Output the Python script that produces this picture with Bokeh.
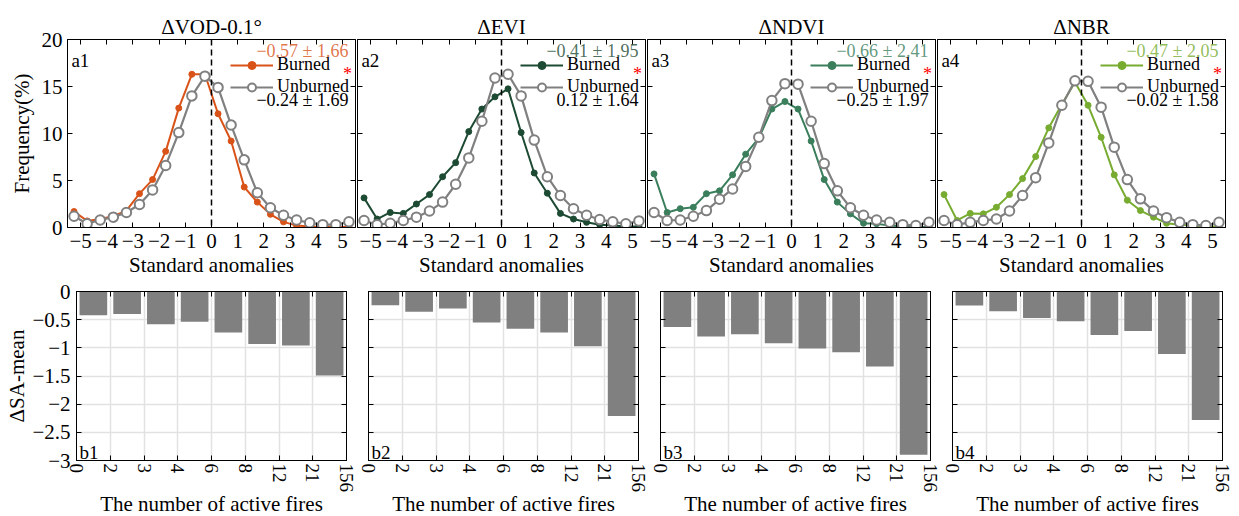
import math
from bokeh.plotting import figure
from bokeh.models import (Range1d, LinearAxis, FixedTicker, Span, Label, Legend,
                          LegendItem, CustomLabelingPolicy)
from bokeh.layouts import column, row
from bokeh.embed import file_html
from bokeh.resources import INLINE

FONT = "Liberation Serif"

# ---------------- data ----------------
titles = ["ΔVOD-0.1°", "ΔEVI", "ΔNDVI", "ΔNBR"]
panel_a = ["a1", "a2", "a3", "a4"]
panel_b = ["b1", "b2", "b3", "b4"]

sa_bins = [-5.25, -4.75, -4.25, -3.75, -3.25, -2.75, -2.25, -1.75, -1.25, -0.75, -0.25,
           0.25, 0.75, 1.25, 1.75, 2.25, 2.75, 3.25, 3.75, 4.25, 4.75, 5.25]

vod_burned = [1.7, 0.7, 0.9, 1.2, 1.8, 3.6, 5.1, 8.1, 12.7, 16.3, 16.3,
              12.1, 9.2, 4.3, 2.7, 1.4, 0.6, 0.2, 0.1, 0.05, 0.05, 0.05]
vod_unburned = [1.2, 0.4, 0.8, 1.1, 1.6, 2.45, 4.0, 6.6, 10.1, 14.0, 16.1,
                14.9, 10.9, 7.2, 3.7, 2.1, 1.3, 0.8, 0.5, 0.3, 0.3, 0.6]
evi_burned = [3.15, 0.9, 1.6, 1.5, 2.5, 3.5, 5.4, 6.9, 10.2, 12.6, 13.9,
              14.75, 10.1, 5.8, 3.65, 1.5, 0.9, 0.55, 0.3, 0.2, 0.1, 0.1]
evi_unburned = [0.75, 0.3, 0.45, 0.75, 1.1, 1.75, 2.7, 4.6, 7.4, 11.3, 15.9,
                16.3, 14.0, 9.3, 5.4, 3.4, 2.0, 1.3, 0.85, 0.6, 0.4, 0.7]
ndvi_burned = [5.7, 1.6, 2.0, 2.15, 3.6, 3.9, 5.6, 7.8, 9.5, 12.6, 13.4,
               12.6, 9.2, 5.1, 2.7, 1.45, 0.45, 0.4, 0.2, 0.1, 0.05, 0.05]
ndvi_unburned = [1.6, 0.75, 0.8, 1.2, 1.8, 3.0, 4.1, 6.5, 9.6, 13.5, 15.3,
                 15.25, 11.3, 6.8, 3.9, 2.1, 1.3, 0.8, 0.55, 0.3, 0.2, 0.55]
nbr_burned = [3.5, 0.75, 1.5, 1.45, 2.15, 3.5, 5.2, 7.55, 10.6, 13.1, 15.45,
              13.0, 9.6, 5.6, 2.9, 1.8, 1.1, 0.45, 0.3, 0.2, 0.1, 0.1]
nbr_unburned = [0.75, 0.3, 0.55, 0.75, 0.9, 1.75, 3.4, 5.3, 9.0, 13.0, 15.6,
                15.55, 12.8, 8.55, 5.1, 3.05, 1.75, 1.05, 0.55, 0.3, 0.2, 0.55]

burned_stats = ["−0.57 ± 1.66", "−0.41 ± 1.95", "−0.66 ± 2.41", "−0.47 ± 2.05"]
unburned_stats = ["−0.24 ± 1.69", "0.12 ± 1.64", "−0.25 ± 1.97", "−0.02 ± 1.58"]

fire_edges = ["0", "2", "3", "4", "6", "8", "12", "21", "156"]
vod_bars = [-0.42, -0.40, -0.58, -0.535, -0.73, -0.93, -0.96, -1.49]
evi_bars = [-0.245, -0.36, -0.30, -0.55, -0.66, -0.73, -0.97, -2.21]
ndvi_bars = [-0.63, -0.80, -0.76, -0.92, -1.01, -1.08, -1.33, -2.90]
nbr_bars = [-0.25, -0.35, -0.47, -0.53, -0.77, -0.70, -1.11, -2.28]

burned_series = [vod_burned, evi_burned, ndvi_burned, nbr_burned]
unburned_series = [vod_unburned, evi_unburned, ndvi_unburned, nbr_unburned]
bar_series = [vod_bars, evi_bars, ndvi_bars, nbr_bars]
burned_colors = ["#D95319", "#1D4A33", "#3A7E5C", "#77AC30"]
gray = "#808080"

sa_ticks = [-5, -4, -3, -2, -1, 0, 1, 2, 3, 4, 5]
freq_ticks = [0, 5, 10, 15, 20]
dsa_ticks = [-3, -2.5, -2, -1.5, -1, -0.5, 0]


def minus(v):
    return ("%g" % v).replace("-", "−")


def style_axis(ax, show_labels, size="21px"):
    ax.major_tick_in = 5
    ax.major_tick_out = 0
    ax.minor_tick_line_color = None
    ax.axis_line_color = "black"
    ax.major_tick_line_color = "black"
    ax.major_label_text_font = FONT
    ax.major_label_text_color = "black"
    ax.axis_label_text_font = FONT
    ax.axis_label_text_font_style = "normal"
    ax.axis_label_text_color = "black"
    ax.axis_label_text_font_size = "21px"
    if show_labels:
        ax.major_label_text_font_size = size
    else:
        ax.major_label_text_font_size = "0px"
        ax.major_label_policy = CustomLabelingPolicy(code="return []")
        ax.major_label_standoff = 0
        ax.axis_label_standoff = 0


# ---------------- top panels ----------------
tops = []
for i in range(4):
    left = 67 if i == 0 else 1
    p = figure(frame_width=288, frame_height=188,
               x_range=Range1d(-5.5, 5.5), y_range=Range1d(0, 20),
               output_backend="svg", toolbar_location=None,
               min_border_left=left, min_border_right=1,
               min_border_top=39, min_border_bottom=49,
               title=titles[i])
    p.title.text_font = FONT
    p.title.text_font_size = "21px"
    p.title.text_font_style = "normal"
    p.title.text_color = "black"
    p.title.align = "center"
    p.title.standoff = 1
    p.grid.visible = False
    p.outline_line_color = "black"

    xa = p.xaxis[0]
    xa.ticker = FixedTicker(ticks=sa_ticks)
    xa.major_label_overrides = {t: minus(t) for t in sa_ticks}
    style_axis(xa, True)
    xa.major_label_standoff = 6
    xa.axis_label = "Standard anomalies"
    xa.axis_label_standoff = 2

    ya = p.yaxis[0]
    ya.ticker = FixedTicker(ticks=freq_ticks)
    style_axis(ya, i == 0)
    if i == 0:
        ya.major_label_standoff = 5
        ya.axis_label = "Frequency(%)"
        ya.axis_label_standoff = 5

    ta = LinearAxis(ticker=FixedTicker(ticks=sa_ticks))
    style_axis(ta, False)
    p.add_layout(ta, "above")
    ra = LinearAxis(ticker=FixedTicker(ticks=freq_ticks))
    style_axis(ra, False)
    p.add_layout(ra, "right")

    p.add_layout(Span(location=0, dimension="height", line_color="black",
                      line_width=1.5, line_dash="6 4"))

    c = burned_colors[i]
    bl = p.line(sa_bins, burned_series[i], line_color=c, line_width=2)
    bs = p.scatter(sa_bins, burned_series[i], size=6, fill_color=c, line_color=c)
    ul = p.line(sa_bins, unburned_series[i], line_color=gray, line_width=2.2)
    us = p.scatter(sa_bins, unburned_series[i], size=9.5, fill_color="white",
                   line_color=gray, line_width=2)

    leg = Legend(items=[LegendItem(label="Burned", renderers=[bl, bs]),
                        LegendItem(label="Unburned", renderers=[ul, us])],
                 location=(163, 130), glyph_width=43, glyph_height=20,
                 label_standoff=4, spacing=1, padding=0, margin=0,
                 label_height=20, label_text_font=FONT, label_text_font_size="18px",
                 label_text_color="black",
                 border_line_alpha=0, background_fill_alpha=0)
    p.add_layout(leg)

    p.add_layout(Label(x=-5.35, y=17.75, text=panel_a[i], text_font=FONT,
                       text_font_size="19px", text_color="black",
                       text_baseline="alphabetic"))
    p.add_layout(Label(x=5.23, y=18.75, text=burned_stats[i], text_font=FONT,
                       text_font_size="18px", text_color=c, text_alpha=0.8,
                       text_align="right", text_baseline="alphabetic"))
    p.add_layout(Label(x=5.23, y=13.6, text=unburned_stats[i], text_font=FONT,
                       text_font_size="18px", text_color="black",
                       text_align="right", text_baseline="alphabetic"))
    p.add_layout(Label(x=5.19, y=16.35, text="*", text_font=FONT,
                       text_font_size="18px", text_color="red",
                       text_align="center", text_baseline="alphabetic"))
    tops.append(p)

# ---------------- bottom panels ----------------
bots = []
lefts = [76, 11, 11, 11]
rights = [11, 11, 11, 12]
for i in range(4):
    p = figure(frame_width=270, frame_height=169,
               x_range=Range1d(0, 8), y_range=Range1d(-3, 0),
               output_backend="svg", toolbar_location=None,
               min_border_left=lefts[i], min_border_right=rights[i],
               min_border_top=12, min_border_bottom=52)
    p.outline_line_color = "black"
    centers = [k + 0.5 for k in range(len(bar_series[i]))]
    p.vbar(x=centers, width=0.82, top=0, bottom=bar_series[i],
           fill_color=gray, line_color=None)

    xa = p.xaxis[0]
    xa.ticker = FixedTicker(ticks=list(range(len(fire_edges))))
    xa.major_label_overrides = {k: fire_edges[k] for k in range(len(fire_edges))}
    style_axis(xa, True, "19px")
    xa.major_label_orientation = -math.pi / 2
    xa.major_label_standoff = 3
    xa.axis_label = "The number of active fires"
    xa.axis_label_standoff = -3

    ya = p.yaxis[0]
    ya.ticker = FixedTicker(ticks=dsa_ticks)
    ya.major_label_overrides = {t: minus(t) for t in dsa_ticks}
    style_axis(ya, i == 0)
    if i == 0:
        ya.major_label_standoff = 6
        ya.axis_label = "ΔSA-mean"
        ya.axis_label_standoff = 0

    ta = LinearAxis(ticker=FixedTicker(ticks=list(range(len(fire_edges)))))
    style_axis(ta, False)
    p.add_layout(ta, "above")
    ra = LinearAxis(ticker=FixedTicker(ticks=dsa_ticks))
    style_axis(ra, False)
    p.add_layout(ra, "right")

    p.xgrid.ticker = FixedTicker(ticks=list(range(len(fire_edges))))
    p.ygrid.ticker = FixedTicker(ticks=dsa_ticks)
    p.grid.grid_line_color = "#e2e2e2"
    p.grid.grid_line_width = 1.5

    p.add_layout(Label(x=0.09, y=-2.86, text=panel_b[i], text_font=FONT,
                       text_font_size="19px", text_color="black",
                       text_baseline="alphabetic"))
    bots.append(p)

layout = column(row(*tops), row(*bots))
open("out.html", "w").write(file_html(layout, INLINE))
